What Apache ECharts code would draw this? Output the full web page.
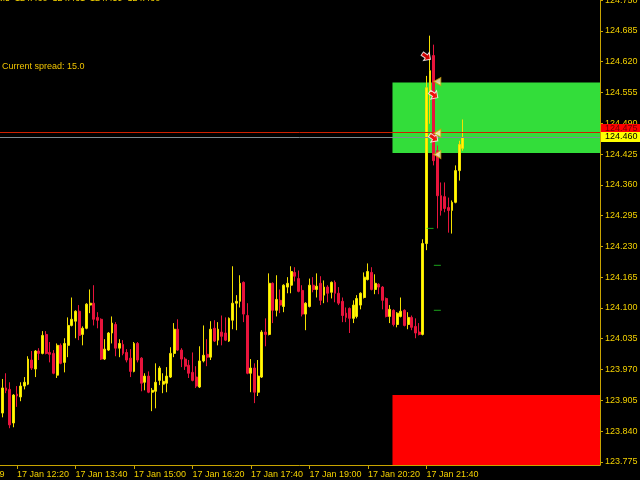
<!DOCTYPE html>
<html>
<head>
<meta charset="utf-8">
<script src="https://cdn.jsdelivr.net/npm/echarts@6/dist/echarts.min.js"></script>
<style>
html,body{margin:0;padding:0;background:#000;}
#chart{width:640px;height:480px;}
</style>
</head>
<body>
<div id="chart"></div>
<script>
// ---- data ----
const firstLabel = '17 Jan 2019';
const labelTimes = ['17 Jan 12:20','17 Jan 13:40','17 Jan 15:00','17 Jan 16:20','17 Jan 17:40','17 Jan 19:00','17 Jan 20:20','17 Jan 21:40'];
const priceTicks = [123.775,123.840,123.905,123.970,124.035,124.100,124.165,124.230,124.295,124.360,124.425,124.490,124.555,124.620,124.685,124.750];
const firstBarOffset = 13; // first visible bar (12:00) index in category list

const opens = [
123.878,123.931,123.928,123.857,123.918,123.912,123.935,123.939,123.990,123.971,
124.009,124.004,124.044,124.006,124.004,123.958,124.021,123.985,124.021,124.063,
124.072,124.093,124.044,124.057,124.106,124.110,124.080,124.076,123.992,124.011,
124.047,124.065,124.015,124.023,124.006,123.994,123.966,124.025,123.994,123.943,
123.956,123.922,123.924,123.947,123.939,123.941,123.954,124.004,124.055,124.011,
123.992,123.979,123.964,123.954,123.933,123.988,124.002,123.996,124.057,124.032,
124.049,124.047,124.030,124.074,124.110,124.114,124.154,124.084,123.962,123.973,
123.922,123.954,124.049,124.044,124.152,124.095,124.116,124.103,124.144,124.148,
124.175,124.162,124.137,124.087,124.103,124.148,124.139,124.152,124.127,124.144,
124.133,124.154,124.131,124.114,124.089,124.099,124.078,124.082,124.106,124.122,
124.160,124.175,124.139,124.150,124.144,124.120,124.082,124.095,124.065,124.082,
124.095,124.065,124.080,124.061,124.049,124.044,124.236,124.559,124.633,124.432,
124.337,124.335,124.312,124.306,124.323,124.390,124.437];
const highs = [
123.950,123.962,123.943,123.918,123.935,123.943,123.954,123.998,124.009,124.011,
124.015,124.051,124.051,124.028,124.011,124.025,124.025,124.036,124.080,124.122,
124.095,124.106,124.061,124.110,124.139,124.148,124.091,124.078,124.034,124.049,
124.082,124.070,124.034,124.032,124.013,124.013,124.028,124.028,123.996,123.962,
123.966,123.931,123.983,123.977,123.962,123.975,124.017,124.068,124.076,124.015,
123.996,123.990,124.006,123.977,124.019,124.063,124.034,124.072,124.074,124.070,
124.084,124.080,124.080,124.188,124.127,124.169,124.156,124.110,123.992,123.983,
123.990,124.053,124.078,124.173,124.154,124.169,124.139,124.150,124.165,124.188,
124.186,124.179,124.148,124.112,124.162,124.165,124.173,124.167,124.158,124.148,
124.156,124.158,124.144,124.122,124.101,124.101,124.116,124.127,124.133,124.175,
124.194,124.186,124.171,124.152,124.146,124.122,124.106,124.097,124.091,124.122,
124.097,124.091,124.084,124.078,124.068,124.245,124.590,124.675,124.656,124.443,
124.365,124.365,124.333,124.327,124.401,124.453,124.498];
const lows = [
123.869,123.920,123.846,123.848,123.891,123.903,123.928,123.937,123.969,123.954,
123.990,124.002,124.002,123.985,123.960,123.952,123.981,123.964,123.996,124.061,
124.036,124.032,124.021,124.055,124.089,124.063,124.057,123.990,123.990,124.009,
124.025,123.998,123.996,124.000,123.985,123.954,123.964,123.985,123.924,123.926,
123.920,123.882,123.888,123.937,123.920,123.922,123.952,123.996,124.009,123.975,
123.969,123.952,123.945,123.931,123.931,123.985,123.977,123.990,124.028,124.021,
124.021,124.030,124.028,124.055,124.053,124.101,124.070,123.960,123.922,123.899,
123.914,123.952,124.019,124.042,124.068,124.082,124.089,124.091,124.131,124.131,
124.156,124.133,124.082,124.053,124.101,124.133,124.122,124.106,124.110,124.112,
124.120,124.112,124.106,124.070,124.070,124.047,124.068,124.078,124.097,124.120,
124.158,124.137,124.129,124.129,124.097,124.080,124.068,124.061,124.059,124.080,
124.061,124.055,124.053,124.036,124.042,124.042,124.222,124.489,124.401,124.268,
124.295,124.302,124.259,124.257,124.321,124.369,124.432];
const closes = [
123.931,123.926,123.853,123.916,123.914,123.935,123.943,123.992,123.973,124.009,
124.004,124.042,124.004,124.002,123.962,124.021,123.983,124.025,124.063,124.076,
124.093,124.042,124.057,124.108,124.110,124.076,124.074,123.992,124.013,124.047,
124.068,124.015,124.025,124.004,123.990,123.966,124.025,123.990,123.941,123.956,
123.922,123.926,123.943,123.973,123.945,123.956,124.004,124.055,124.011,123.992,
123.977,123.962,123.947,123.935,123.988,124.000,123.996,124.055,124.030,124.055,
124.040,124.032,124.078,124.110,124.114,124.152,124.087,123.962,123.973,123.922,
123.956,124.049,124.044,124.152,124.095,124.118,124.106,124.148,124.152,124.177,
124.167,124.135,124.087,124.110,124.148,124.139,124.146,124.116,124.144,124.131,
124.154,124.131,124.110,124.084,124.080,124.078,124.106,124.120,124.131,124.165,
124.177,124.139,124.152,124.144,124.116,124.082,124.097,124.065,124.089,124.093,
124.063,124.080,124.059,124.047,124.044,124.236,124.565,124.601,124.411,124.337,
124.306,124.310,124.306,124.323,124.390,124.445,124.460];

const askPrice = 124.475;
const bidPrice = 124.460;
// zones: [startCategoryIndex, upperPrice, lowerPrice]
const supplyZone = [120, 124.576, 124.427];
const demandZone = [120, 123.916, 123.7683];
// trade marks: [categoryIndex, price]
const sellArrows = [[129, 124.631], [131, 124.550], [131, 124.459]];
const closeMarks = [[132, 124.578], [132, 124.469], [132, 124.424]];
const levelDashes = [[130, 124.268], [132, 124.190], [132, 124.095]];
const spreadText = 'Current spread: 15.0';
const headerSymbol = 'EURJPY,M5';
const headerOHLC = '124.460  124.461  124.459  124.460';

// ---- categories (5-minute bars) ----
const categories = [];
const startMin = 10 * 60 + 55;
const totalBars = 177;
for (let i = 0; i < totalBars; i++) {
  let m = startMin + i * 5;
  let day = 17;
  if (m >= 1440) { m -= 1440; day = 18; }
  const hh = String(Math.floor(m / 60)).padStart(2, '0');
  const mm = String(m % 60).padStart(2, '0');
  categories.push(day + ' Jan ' + hh + ':' + mm);
}
const candleData = categories.map((c, i) => {
  const k = i - firstBarOffset;
  if (k < 0 || k >= opens.length) return '-';
  return [opens[k], closes[k], lows[k], highs[k]];
});

const showLabel = (index, value) => index === 0 || labelTimes.indexOf(value) >= 0;

const GOLD_TEXT = '#f2d000';
const GOLD_LINE = '#c8a400';
const FONT = 'Liberation Sans';
const Y_MIN = 123.7683, Y_MAX = 124.7503;

const chart = echarts.init(document.getElementById('chart'), null, {renderer: 'canvas'});
const zoneColors = ['#33dd3a', '#ff0000'];

function priceLine(price, lineColor) {
  return {
    silent: true, symbol: ['none', 'none'], animation: false,
    label: {show: false},
    lineStyle: {color: lineColor, width: 1, type: 'solid'},
    data: [{yAxis: price}]
  };
}

// price box drawn next to the price scale, positioned through the axis
function priceBox(price, fill, textColor, topOffset, height, z) {
  return {
    type: 'custom',
    z: z,
    clip: false,
    encode: {x: 0, y: 1},
    data: [[0, price]],
    renderItem: (params, api) => {
      const y = Math.round(api.coord([0, api.value(1)])[1]);
      const x = params.coordSys.x + params.coordSys.width;
      const top = y + topOffset;
      return {
        type: 'group',
        children: [
          {type: 'rect', shape: {x: x + 1, y: top, width: 40, height: height}, style: {fill: fill}},
          {type: 'text', x: x + 5, y: top + 5,
           style: {text: api.value(1).toFixed(3), fill: textColor, font: '9px ' + FONT, verticalAlign: 'middle'}}
        ]
      };
    }
  };
}

chart.setOption({
  backgroundColor: '#000000',
  animation: false,
  grid: {left: -46.98, right: 40, top: 0, bottom: 15, containLabel: false, outerBoundsMode: 'none'},
  xAxis: {
    type: 'category',
    data: categories,
    boundaryGap: true,
    axisLine: {show: true, lineStyle: {color: GOLD_LINE, width: 1}},
    axisTick: {show: true, alignWithLabel: true, length: 4, interval: showLabel, lineStyle: {color: GOLD_LINE}},
    axisLabel: {
      interval: showLabel,
      formatter: (v, i) => (i === 0 ? firstLabel : v),
      align: 'left', color: GOLD_TEXT, fontSize: 9, fontFamily: FONT, margin: 5
    },
    splitLine: {show: false}
  },
  yAxis: {
    type: 'value',
    position: 'right',
    min: Y_MIN, max: Y_MAX,
    axisLine: {show: true, lineStyle: {color: GOLD_LINE, width: 1}},
    axisTick: {show: true, length: 3, customValues: priceTicks, lineStyle: {color: GOLD_LINE}},
    axisLabel: {customValues: priceTicks, formatter: v => v.toFixed(3), color: GOLD_TEXT, fontSize: 9, fontFamily: FONT, margin: 5},
    splitLine: {show: false}
  },
  graphic: [
    {type: 'text', x: 10, y: -6, style: {text: headerSymbol, textAlign: 'right', fill: GOLD_TEXT, font: '9px ' + FONT}},
    {type: 'text', x: 15, y: -6, style: {text: headerOHLC, fill: GOLD_TEXT, font: '9px ' + FONT}},
    {type: 'text', x: 2, y: 62, style: {text: spreadText, fill: '#f0c400', font: '9px ' + FONT}}
  ],
  series: [
    {
      type: 'custom',
      z: 1,
      clip: true,
      encode: {x: 0, y: [1, 2]},
      data: [supplyZone, demandZone],
      renderItem: (params, api) => {
        const p0 = api.coord([api.value(0), api.value(1)]);
        const p1 = api.coord([api.value(0), api.value(2)]);
        const right = params.coordSys.x + params.coordSys.width;
        return {
          type: 'rect',
          shape: {x: p0[0] - 1, y: p0[1], width: right - p0[0] + 1, height: p1[1] - p0[1]},
          style: {fill: zoneColors[params.dataIndex]}
        };
      }
    },
    {
      type: 'candlestick',
      z: 3,
      barWidth: 2.4,
      data: candleData,
      itemStyle: {
        color: '#ffff00', color0: '#e8143c',
        borderColor: '#f4e000', borderColor0: '#e8143c', borderWidth: 1
      }
    },
    {
      type: 'scatter',
      z: 4,
      clip: false,
      symbol: 'rect',
      symbolSize: [7, 1],
      itemStyle: {color: '#22cc22'},
      data: levelDashes,
      markLine: priceLine(askPrice, '#d02000')
    },
    {
      type: 'scatter',
      z: 5,
      clip: false,
      symbol: 'path://M0,3 L5,3 L5,0 L10,5 L5,10 L5,7 L0,7 Z',
      symbolSize: 10,
      symbolRotate: -35,
      itemStyle: {color: '#ff0000', borderColor: '#ffffff', borderWidth: 1},
      data: sellArrows,
      markLine: priceLine(bidPrice, '#7f8b93')
    },
    {
      type: 'scatter',
      z: 6,
      clip: false,
      symbol: 'triangle',
      symbolSize: [8, 7],
      symbolRotate: 90,
      itemStyle: {color: '#fff8c0', borderColor: '#d0a000', borderWidth: 1},
      data: closeMarks
    },
    priceBox(askPrice, '#ff0000', '#6e0000', -6, 9, 10),
    priceBox(bidPrice, '#ffff00', '#000000', -5, 10, 11)
  ]
});
</script>
</body>
</html>
